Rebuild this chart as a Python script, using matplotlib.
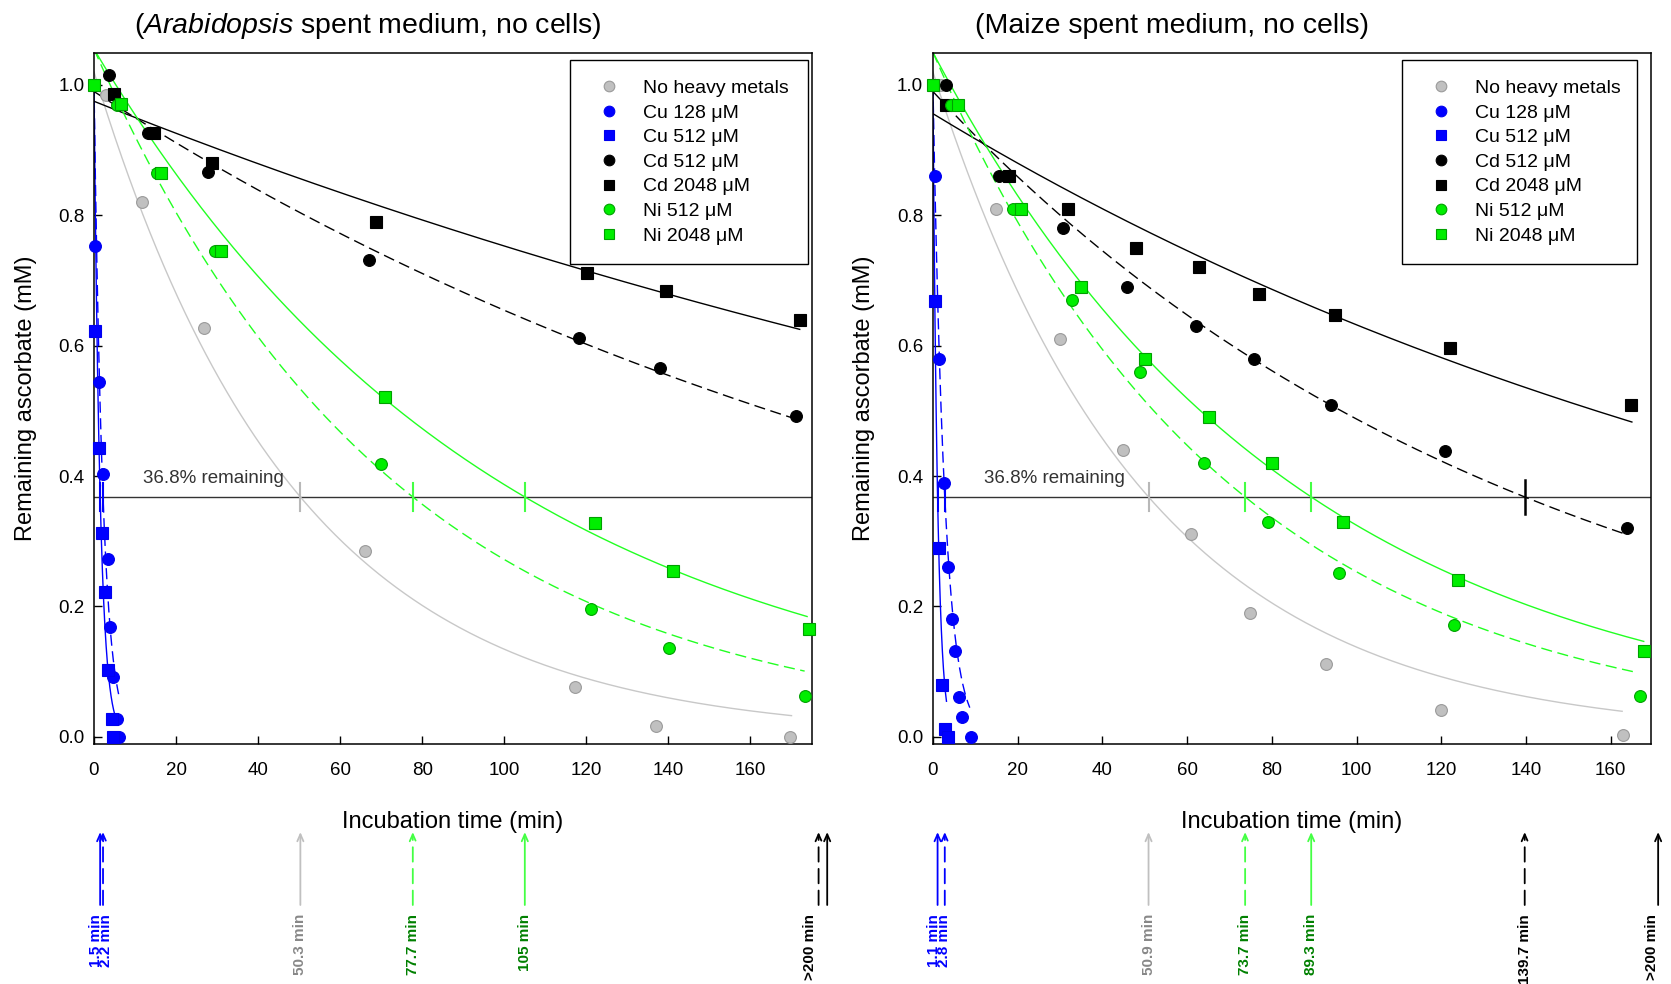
import numpy as np
import matplotlib
matplotlib.use('Agg')
import matplotlib.pyplot as plt
from matplotlib.lines import Line2D
from matplotlib.ticker import FormatStrFormatter

plt.rcParams['font.family'] = ['Liberation Sans', 'DejaVu Sans']
plt.rcParams['mathtext.fontset'] = 'custom'
plt.rcParams['mathtext.rm'] = 'Liberation Sans'
plt.rcParams['mathtext.it'] = 'Liberation Sans:italic'

series_names = ['No heavy metals', 'Cu 128 μM', 'Cu 512 μM', 'Cd 512 μM',
                'Cd 2048 μM', 'Ni 512 μM', 'Ni 2048 μM']

# ---------------- Arabidopsis spent medium ----------------
ara_none_t = [2.9, 11.8, 26.8, 66.0, 117.2, 137.0, 169.6]
ara_none_y = [0.984, 0.821, 0.627, 0.285, 0.076, 0.016, 0.0]
ara_cu128_t = [0.3, 1.2, 2.3, 3.3, 3.8, 4.6, 5.7, 6.1]
ara_cu128_y = [0.753, 0.544, 0.403, 0.273, 0.169, 0.092, 0.027, 0.0]
ara_cu512_t = [0.15, 1.3, 1.9, 2.7, 3.4, 4.3, 4.7]
ara_cu512_y = [0.622, 0.443, 0.312, 0.222, 0.103, 0.027, 0.0]
ara_cd512_t = [3.7, 13.1, 27.8, 67.0, 118.2, 138.0, 171.2]
ara_cd512_y = [1.015, 0.927, 0.867, 0.731, 0.612, 0.566, 0.492]
ara_cd2048_t = [4.9, 14.7, 28.8, 68.8, 120.2, 139.3, 172.0]
ara_cd2048_y = [0.986, 0.927, 0.881, 0.790, 0.712, 0.684, 0.639]
ara_ni512_t = [0.0, 5.5, 15.3, 29.6, 69.9, 121.2, 140.1, 173.2]
ara_ni512_y = [1.0, 0.970, 0.865, 0.745, 0.418, 0.196, 0.137, 0.063]
ara_ni2048_t = [0.0, 6.5, 16.3, 30.9, 70.9, 122.1, 141.1, 174.2]
ara_ni2048_y = [1.0, 0.971, 0.865, 0.745, 0.522, 0.328, 0.255, 0.165]

# exponential fits: y = A*exp(-t*ln(A/0.368)/t368)
ara_fit_A = [1.02, 1.0, 1.0, 0.99, 0.975, 1.055, 1.055]
ara_fit_t368 = [50.3, 2.2, 1.5, 239.0, 377.0, 77.7, 105.0]
ara_fit_tend = [170.0, 6.0, 5.0, 171.0, 172.0, 173.2, 173.8]

# arrows below the axis (time to 36.8 % remaining)
ara_arrow_x = [50.3, 2.2, 1.5, 176.6, 178.7, 77.7, 105.0]
ara_label_x = [50.3, 2.9, 0.6, None, 174.5, 77.7, 105.0]
ara_labels = ['50.3 min', '2.2 min', '1.5 min', None, '>200 min', '77.7 min', '105 min']
ara_cross = [50.3, 2.2, 1.5, None, None, 77.7, 105.0]

# ---------------- Maize spent medium ----------------
mz_none_t = [2.0, 3.1, 14.9, 30.0, 44.9, 60.9, 74.9, 92.9, 120.0, 162.9]
mz_none_y = [1.0, 0.97, 0.81, 0.61, 0.44, 0.311, 0.19, 0.111, 0.041, 0.003]
mz_cu128_t = [0.55, 1.4, 2.6, 3.5, 4.5, 5.1, 6.1, 6.9, 8.9]
mz_cu128_y = [0.86, 0.58, 0.39, 0.261, 0.18, 0.131, 0.061, 0.031, 0.0]
mz_cu512_t = [0.4, 1.4, 2.2, 2.9, 3.5]
mz_cu512_y = [0.669, 0.29, 0.08, 0.012, 0.0]
mz_cd512_t = [3.1, 15.7, 30.8, 45.8, 62.0, 75.9, 93.9, 120.9, 163.9]
mz_cd512_y = [1.0, 0.86, 0.78, 0.69, 0.63, 0.58, 0.509, 0.439, 0.32]
mz_cd2048_t = [3.1, 18.0, 31.9, 48.0, 62.7, 76.9, 94.9, 122.0, 164.9]
mz_cd2048_y = [0.97, 0.86, 0.81, 0.75, 0.72, 0.68, 0.647, 0.597, 0.509]
mz_ni512_t = [0.0, 4.3, 19.0, 32.9, 48.9, 63.9, 79.0, 95.8, 122.9, 166.9]
mz_ni512_y = [1.0, 0.97, 0.81, 0.67, 0.56, 0.42, 0.33, 0.251, 0.171, 0.062]
mz_ni2048_t = [0.0, 5.9, 20.8, 34.9, 50.0, 65.1, 80.0, 96.9, 123.9, 167.8]
mz_ni2048_y = [1.0, 0.97, 0.81, 0.69, 0.58, 0.49, 0.42, 0.33, 0.24, 0.131]

mz_fit_A = [1.02, 1.0, 1.0, 0.99, 0.956, 1.05, 1.05]
mz_fit_t368 = [50.9, 2.8, 1.1, 139.7, 230.7, 73.7, 89.3]
mz_fit_tend = [162.7, 8.7, 3.2, 164.0, 165.0, 166.3, 167.8]

mz_arrow_x = [50.9, 2.8, 1.1, 139.7, 171.2, 73.7, 89.3]
mz_label_x = [50.9, 2.6, 0.3, 139.7, 169.8, 73.7, 89.3]
mz_labels = ['50.9 min', '2.8 min', '1.1 min', '139.7 min', '>200 min', '73.7 min', '89.3 min']
mz_cross = [50.9, 2.8, 1.1, 139.7, None, 73.7, 89.3]

x_ticks = [0, 20, 40, 60, 80, 100, 120, 140, 160]
y_ticks = [0.0, 0.2, 0.4, 0.6, 0.8, 1.0]

# ---------------- styles ----------------
marker = ['o', 'o', 's', 'o', 's', 'o', 's']
face = ['#c0c0c0', '#0000ff', '#0000ff', '#000000', '#000000', '#00ee00', '#00ee00']
edge = ['#9a9a9a', '#0000ee', '#0000ee', '#000000', '#000000', '#00a000', '#00a000']
line_c = ['#c8c8c8', '#0000ff', '#0000ff', '#000000', '#000000', '#22ff22', '#22ff22']
line_ls = ['-', (0, (8, 4)), '-', (0, (8, 4)), '-', (0, (8, 4)), '-']
text_c = ['#888888', '#0000ff', '#0000ff', '#000000', '#000000', '#008000', '#008000']
arrow_c = ['#c0c0c0', '#0000ff', '#0000ff', '#000000', '#000000', '#44ff44', '#44ff44']
cross_c = ['#b8b8b8', '#0000ff', '#0000ff', '#000000', '#000000', '#44ff44', '#44ff44']

fig = plt.figure(figsize=(16.71, 9.84), dpi=100)
ax_l = fig.add_axes([0.05625, 0.2439, 0.4297, 0.7022])
ax_r = fig.add_axes([0.5583, 0.2439, 0.4297, 0.7022])

panels = [
    dict(ax=ax_l,
         title=r'($\mathit{Arabidopsis}$ spent medium, no cells)', title_x=0.381,
         t=[ara_none_t, ara_cu128_t, ara_cu512_t, ara_cd512_t, ara_cd2048_t, ara_ni512_t, ara_ni2048_t],
         y=[ara_none_y, ara_cu128_y, ara_cu512_y, ara_cd512_y, ara_cd2048_y, ara_ni512_y, ara_ni2048_y],
         A=ara_fit_A, t368=ara_fit_t368, tend=ara_fit_tend,
         ax_x=ara_arrow_x, lab_x=ara_label_x, labels=ara_labels, cross=ara_cross,
         xmax=175.0, legend_box=(0.663, 0.99, 0.331)),
    dict(ax=ax_r,
         title='(Maize spent medium, no cells)', title_x=0.333,
         t=[mz_none_t, mz_cu128_t, mz_cu512_t, mz_cd512_t, mz_cd2048_t, mz_ni512_t, mz_ni2048_t],
         y=[mz_none_y, mz_cu128_y, mz_cu512_y, mz_cd512_y, mz_cd2048_y, mz_ni512_y, mz_ni2048_y],
         A=mz_fit_A, t368=mz_fit_t368, tend=mz_fit_tend,
         ax_x=mz_arrow_x, lab_x=mz_label_x, labels=mz_labels, cross=mz_cross,
         xmax=169.5, legend_box=(0.653, 0.99, 0.328)),
]

label_family = ['Liberation Sans Narrow', 'Liberation Sans']

for p in panels:
    ax = p['ax']
    # fitted curves
    for i in range(7):
        A = p['A'][i]
        k = np.log(A / 0.368) / p['t368'][i]
        tt = np.linspace(0, p['tend'][i], 400)
        ax.plot(tt, A * np.exp(-k * tt), color=line_c[i], ls=line_ls[i], lw=1.0, zorder=2)
    # 36.8 % line
    ax.axhline(0.368, color='#333333', lw=1.0, zorder=1)
    ax.text(12, 0.396, '36.8% remaining', fontsize=13.5, color='#333333', va='center', ha='left')
    for i in range(7):
        c = p['cross'][i]
        if c is None:
            continue
        if i == 3 and c > 100:
            ax.plot([c, c], [0.368 - 0.026, 0.368 + 0.026], color='#000000', lw=1.8, zorder=3)
        else:
            ax.plot([c, c], [0.368 - 0.022, 0.368 + 0.022], color=cross_c[i], lw=1.5, zorder=3)
    # data points
    for i in range(7):
        ms = 8.5 if marker[i] == 'o' else 8.0
        ax.plot(p['t'][i], p['y'][i], ls='none', marker=marker[i], ms=ms,
                mfc=face[i], mec=edge[i], mew=0.8, zorder=4 + i * 0.1, clip_on=False)

    ax.set_xlim(0, p['xmax'])
    ax.set_ylim(-0.011, 1.049)
    ax.set_xticks(x_ticks)
    ax.set_yticks(y_ticks)
    ax.yaxis.set_major_formatter(FormatStrFormatter('%.1f'))
    ax.tick_params(direction='in', length=6, width=1, labelsize=13.5, top=False, right=False)
    ax.tick_params(axis='x', pad=13)
    ax.tick_params(axis='y', pad=7)
    for s in ax.spines.values():
        s.set_linewidth(1.1)
    ax.set_xlabel('Incubation time (min)', fontsize=17)
    ax.xaxis.set_label_coords(0.5, -0.097)
    ax.set_ylabel('Remaining ascorbate (mM)', fontsize=17)
    ax.yaxis.set_label_coords(-0.08, 0.5)
    ax.text(p['title_x'], 1.0 + 27 / 691, p['title'], transform=ax.transAxes,
            fontsize=20.5, ha='center', va='center')

    # legend
    handles = [Line2D([], [], ls='none', marker=marker[i], ms=(8.5 if marker[i] == 'o' else 8.0),
                      mfc=face[i], mec=edge[i], mew=0.8) for i in range(7)]
    x0, y1, w = p['legend_box']
    leg = ax.legend(handles, series_names, loc='upper left', bbox_to_anchor=(x0, y1, w, 0.0),
                    mode='expand', fontsize=14, frameon=True, fancybox=False, framealpha=1,
                    edgecolor='#000000', borderpad=1.0, labelspacing=0.36, handlelength=2.0,
                    handletextpad=0.75, markerscale=0.9, borderaxespad=0)
    leg.get_frame().set_linewidth(1.0)

    # arrows and labels below the axis
    trans = ax.get_xaxis_transform()
    for i in range(7):
        xa = p['ax_x'][i]
        ax.annotate('', xy=(xa, -0.1275), xytext=(xa, -0.233), xycoords=trans, textcoords=trans,
                    arrowprops=dict(arrowstyle='->,head_length=0.5,head_width=0.22',
                                    color=arrow_c[i], lw=1.3, linestyle=line_ls[i],
                                    shrinkA=0, shrinkB=0),
                    annotation_clip=False)
        if p['labels'][i] is not None:
            ax.text(p['lab_x'][i], -0.246, p['labels'][i], transform=trans, rotation=90,
                    ha='center', va='top', fontsize=11, fontweight='bold', color=text_c[i],
                    family=label_family, clip_on=False)

fig.savefig('out.png', dpi=100)
